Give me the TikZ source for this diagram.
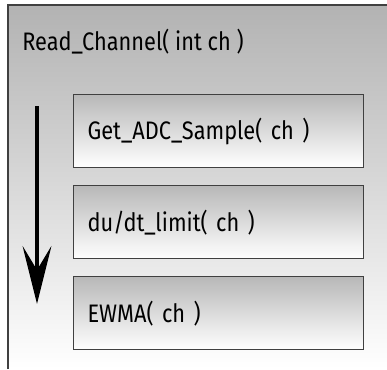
\documentclass[tikz,border=0pt]{standalone}
\usepackage{fontspec}
\setmainfont{Fira Sans}[FakeStretch=0.86]
\usepackage{tikz}
\usetikzlibrary{arrows.meta,calc,positioning}
\definecolor{framegray}{gray}{0.70}
\definecolor{boxgray}{gray}{0.72}
\definecolor{edgegray}{gray}{0.25}

\begin{document}
\begin{tikzpicture}[x=0.025cm,y=-0.025cm]
          \useasboundingbox (0,0) rectangle (387,369);

          % Draw outer frame of Read_Channel
          \shade[top color=framegray, bottom color=white] (8,5) rectangle (387,369);
          \draw[edgegray, line width=1.2pt] (8,369) -- (8,5) -- (387,5);
          \node[anchor=base west, inner sep=0pt, font=\fontsize{18}{21}\selectfont] (RC) at (22,50) {Read\_Channel( int ch )};

          % Draw the three step boxes
          \tikzset{stepbox/.style={draw=edgegray, line width=0.8pt, top color=boxgray, bottom color=white, minimum width=7.25cm, minimum height=1.825cm, text width=6.55cm, align=left, inner sep=0pt, font=\fontsize{18}{21}\selectfont}}
          \node[stepbox, anchor=north west] (ADC) at (73,94) {Get\_ADC\_Sample( ch )};
          \node[stepbox, below=0.425cm of ADC] (DUDT) {du/dt\_limit( ch )};
          \node[stepbox, below=0.425cm of DUDT] (EWMA) {EWMA( ch )};

          % Draw arrow for the order of the steps
          \coordinate (start) at (37,106);
          \coordinate (stop) at (37,304);
          \draw[-{Stealth[length=1.45cm, width=0.72cm, inset=0.6cm]}, line width=3pt] (start) -- (stop);
        \end{tikzpicture}
\end{document}
